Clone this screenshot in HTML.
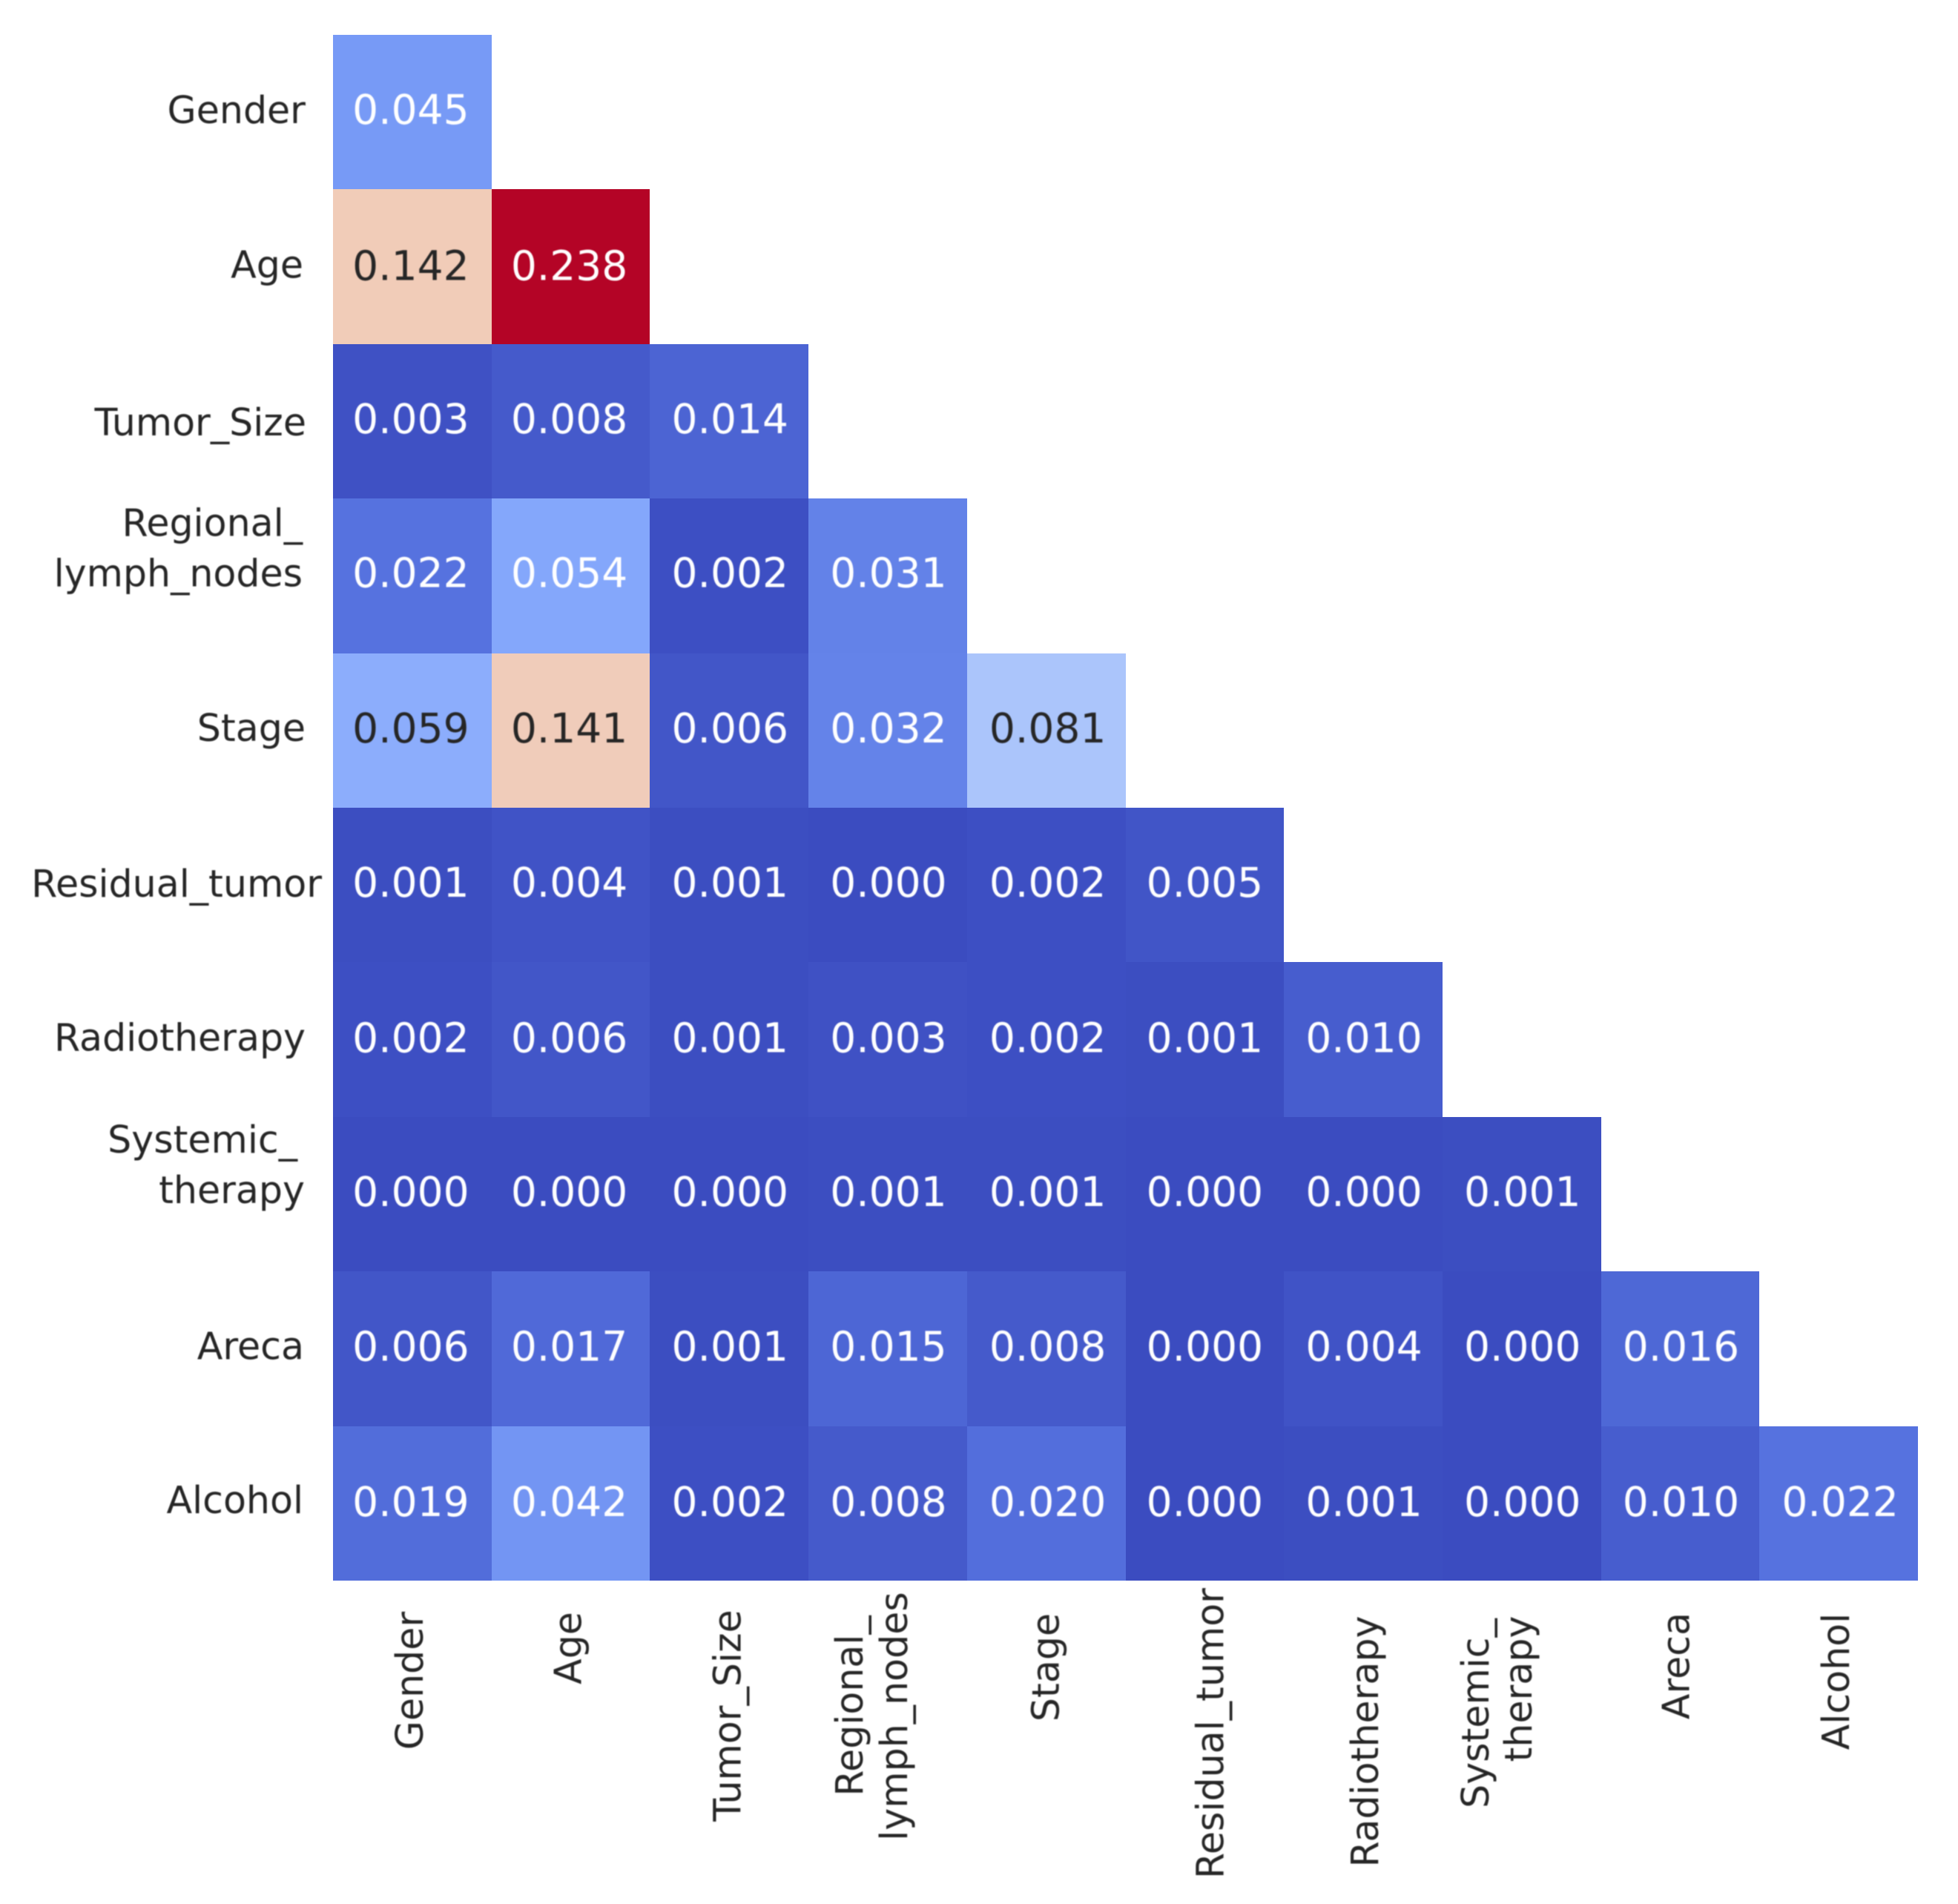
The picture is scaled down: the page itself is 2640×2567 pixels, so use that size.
<!DOCTYPE html>
<html lang="en">
<head>
<meta charset="utf-8">
<title>Correlation heatmap</title>
<style>
  html, body { margin: 0; padding: 0; background: #fff; }
  #chart { display: block; }
  .annot { font-family: "DejaVu Sans", "Liberation Sans", sans-serif; font-size: 55px; text-anchor: middle; }
  .tick-label { font-family: "DejaVu Sans", "Liberation Sans", sans-serif; font-size: 50.6px; fill: #262626; }
  #annotations, #y-labels, #x-labels { filter: blur(0.9px); }
</style>
</head>
<body>
<svg id="chart" xmlns="http://www.w3.org/2000/svg" width="2640" height="2567" viewBox="0 0 2640 2567">
  <rect width="2640" height="2567" fill="#ffffff"/>
  <g id="cells" shape-rendering="crispEdges"></g>
  <g id="annotations"></g>
  <g id="y-labels"></g>
  <g id="x-labels"></g>
</svg>
<script>
// ---- data ----
const categories = ["Gender", "Age", "Tumor_Size", "Regional_\nlymph_nodes", "Stage", "Residual_tumor", "Radiotherapy", "Systemic_\ntherapy", "Areca", "Alcohol"];
const row0 = [0.045];
const row1 = [0.142, 0.238];
const row2 = [0.003, 0.008, 0.014];
const row3 = [0.022, 0.054, 0.002, 0.031];
const row4 = [0.059, 0.141, 0.006, 0.032, 0.081];
const row5 = [0.001, 0.004, 0.001, 0.000, 0.002, 0.005];
const row6 = [0.002, 0.006, 0.001, 0.003, 0.002, 0.001, 0.010];
const row7 = [0.000, 0.000, 0.000, 0.001, 0.001, 0.000, 0.000, 0.001];
const row8 = [0.006, 0.017, 0.001, 0.015, 0.008, 0.000, 0.004, 0.000, 0.016];
const row9 = [0.019, 0.042, 0.002, 0.008, 0.020, 0.000, 0.001, 0.000, 0.010, 0.022];
const matrixRows = [row0, row1, row2, row3, row4, row5, row6, row7, row8, row9];
const colorMin = 0;
const colorMax = 0.238;

// ---- layout (not data) ----
const plot = { left: 449, right: 2586, top: 47, bottom: 2131 };
const annotBaselineShift = 16;
const annotColumnNudge = [-3, -3, 0, 0, 1, -1, 0, 0, 0, 1];
const annotRowNudge = [0, 2, 0, -1, 0, 0, 1, 0, 0, 1];
const yLabelLayout = [
  { right: [412], dy: [15] },
  { right: [409], dy: [15] },
  { right: [413], dy: [19] },
  { right: [408, 408], dy: [-54, 14] },
  { right: [412], dy: [14] },
  { right: [434], dy: [16] },
  { right: [412], dy: [15] },
  { right: [401, 411], dy: [-56, 12] },
  { right: [410], dy: [14] },
  { right: [409], dy: [13] }
];
const xLabelLayout = [
  { base: [14], mid: [2266] },
  { base: [14], mid: [2222] },
  { base: [15], mid: [2313] },
  { base: [-34, 26], mid: [2300, 2314] },
  { base: [17], mid: [2248] },
  { base: [25], mid: [2337] },
  { base: [20], mid: [2348] },
  { base: [-45, 13], mid: [2310, 2277] },
  { base: [12], mid: [2246] },
  { base: [14], mid: [2267] }
];

// ---- scales ----
const nCols = categories.length;
const bandW = (plot.right - plot.left) / nCols;
const bandH = (plot.bottom - plot.top) / nCols;
function xScale(i) { return plot.left + i * bandW; }
function yScale(i) { return plot.top + i * bandH; }

const coolwarmStops = [
  [59, 76, 192], [88, 117, 225], [123, 159, 249], [158, 189, 255], [190, 210, 246],
  [221, 220, 220], [242, 203, 183], [247, 168, 137], [235, 125, 97], [214, 82, 68], [180, 4, 38]
];
function colorScale(v) {
  const t = Math.max(0, Math.min(1, (v - colorMin) / (colorMax - colorMin))) * (coolwarmStops.length - 1);
  const i = Math.min(Math.floor(t), coolwarmStops.length - 2);
  const f = t - i;
  return coolwarmStops[i].map(function (c, k) { return c + (coolwarmStops[i + 1][k] - c) * f; });
}
function luminance(rgb) {
  const lin = rgb.map(function (c) {
    const s = c / 255;
    return s <= 0.03928 ? s / 12.92 : Math.pow((s + 0.055) / 1.055, 2.4);
  });
  return 0.2126 * lin[0] + 0.7152 * lin[1] + 0.0722 * lin[2];
}

// ---- drawing ----
const NS = "http://www.w3.org/2000/svg";
const cellsG = document.getElementById("cells");
const annotG = document.getElementById("annotations");
const yG = document.getElementById("y-labels");
const xG = document.getElementById("x-labels");

matrixRows.forEach(function (row, r) {
  row.forEach(function (value, c) {
    const rgb = colorScale(value);
    const x0 = Math.round(xScale(c)), x1 = Math.round(xScale(c + 1));
    const y0 = Math.round(yScale(r)), y1 = Math.round(yScale(r + 1));

    const rect = document.createElementNS(NS, "rect");
    rect.setAttribute("x", x0);
    rect.setAttribute("y", y0);
    rect.setAttribute("width", x1 - x0);
    rect.setAttribute("height", y1 - y0);
    rect.setAttribute("fill", "rgb(" + rgb.map(Math.round).join(",") + ")");
    
    
    cellsG.appendChild(rect);

    const t = document.createElementNS(NS, "text");
    t.setAttribute("class", "annot");
    t.setAttribute("x", xScale(c) + bandW / 2 + 1 + annotColumnNudge[c]);
    t.setAttribute("y", yScale(r) + bandH / 2 + annotBaselineShift + annotRowNudge[r]);
    t.setAttribute("fill", luminance(rgb) < 0.408 ? "#ffffff" : "#262626");
    
    
    t.textContent = value.toFixed(3);
    annotG.appendChild(t);
  });
});

categories.forEach(function (name, i) {
  const lines = name.split("\n");
  const yLayout = yLabelLayout[i];
  const xLayout = xLabelLayout[i];
  lines.forEach(function (line, k) {
    const yt = document.createElementNS(NS, "text");
    yt.setAttribute("class", "tick-label");
    yt.setAttribute("text-anchor", "end");
    yt.setAttribute("x", yLayout.right[k]);
    yt.setAttribute("y", yScale(i) + bandH / 2 + yLayout.dy[k]);
    
    
    yt.textContent = line;
    yG.appendChild(yt);

    const xt = document.createElementNS(NS, "text");
    const bx = xScale(i) + bandW / 2 + xLayout.base[k];
    const my = xLayout.mid[k];
    xt.setAttribute("class", "tick-label");
    xt.setAttribute("text-anchor", "middle");
    xt.setAttribute("transform", "translate(" + bx + "," + my + ") rotate(-90)");
    
    
    xt.textContent = line;
    xG.appendChild(xt);
  });
});
</script>
</body>
</html>
